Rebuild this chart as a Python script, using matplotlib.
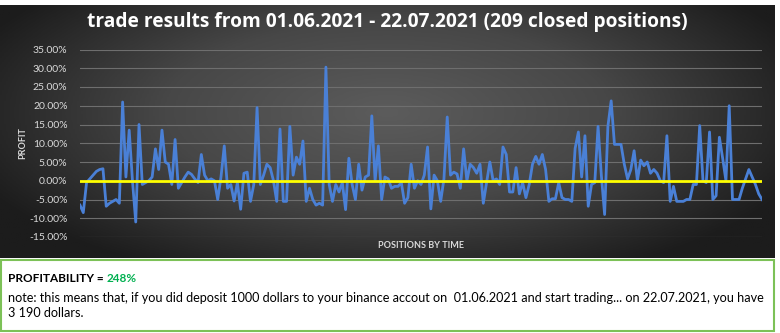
import numpy as np
import matplotlib
matplotlib.use("Agg")
import matplotlib.pyplot as plt
from matplotlib.colors import LinearSegmentedColormap
from matplotlib.patches import Rectangle

# Data (profit per closed position, in %) left to right
seg_a = [-6.5, -8.5, -0.5, 0.5, 1.5, 2.5, 3.0, 3.2, -6.8, -6.0, -5.5, -5.0, -6.0,
         21.0, 1.0, 13.5, 0.0, -11.0, 15.0, -1.0, -0.5, 0.0, 1.0, 8.5, 3.0, 13.5, 5.0]
seg_b = [4.4, -1.0, 11.0, -2.0, -0.5, 1.0, 2.3, 1.7, 0.5, -0.5, 7.0, 1.5, 0.0, 0.5,
         0.0, -5.0, 1.0, 9.3, -2.0, -1.0, -5.4, -0.5, -7.6, 2.0, 2.3, -5.5, -1.0, 19.5]
seg_c = [-1.0, 1.5, 4.4, 3.5, 0.0, -5.5, 13.8, -5.5, -5.5, 14.5, 1.5, 6.3, 4.4, 10.6,
         -5.5, -2.0, -5.0, -6.5, -6.0, -6.5, 30.3, -1.0, -5.5, -1.0, -3.0, -0.5, -7.7, 6.0]
seg_d = [-1.0, -5.0, 4.4, -2.5, 1.0, 1.5, 17.3, 0.0, 9.3, -5.0, 1.0, 0.5, -2.0, -1.5,
         -1.5, -0.5, -6.0, -4.5, 4.4, -2.0, 0.0, -1.0, 1.5, 9.0, -7.5, 1.5]
seg_e = [0.0, -5.5, 0.5, 17.0, 1.5, 2.3, 1.8, -2.0, 8.5, 0.0, 4.4, 3.5, 2.0, 4.4,
         -6.0, -0.5, 5.0, 0.0, 0.5, -1.0, 9.0, 7.0, -3.0, -3.0, 3.5, -3.5, -0.5, -4.5]
seg_f = [-1.0, 4.4, 6.5, 4.4, 7.0, 3.0, -5.5, -4.8, -4.8, -0.5, -4.5, -5.0, -5.0, -5.5,
         8.6, 13.0, 1.0, 12.0, -6.8, -1.0, -0.5, 14.5, 1.5, -9.0, 14.5, 21.3, 9.7, 9.7]
seg_g = [9.7, 4.4, 0.5, 3.0, 8.0, 0.0, 5.5, 4.0, 5.0, 2.0, 3.0, 2.0, 0.0, -0.5,
         12.0, -5.5, -1.5, -5.5, -5.5, -5.5, -5.0, -5.0, -1.0, -1.0, 14.7, 0.0, -0.5, 13.0]
seg_h = [-5.0, -4.0, 11.6, 6.0, 0.0, 20.0, -5.0, -5.0, -5.0, -2.0, 0.5, 3.0, 1.0,
         -1.0, -3.5, -5.0]
profit = seg_a + seg_b + seg_c + seg_d + seg_e + seg_f + seg_g + seg_h

y_ticks = [-15, -10, -5, 0, 5, 10, 15, 20, 25, 30, 35]

title = "trade results from 01.06.2021 - 22.07.2021 (209 closed positions)"
profitability = "248%"
note = ("note: this means that, if you did deposit 1000 dollars to your binance accout on  "
        "01.06.2021 and start trading... on 22.07.2021, you have\n3 190 dollars.")

W, H = 780, 333
fig = plt.figure(figsize=(W / 100, H / 100), dpi=100)
fig.patch.set_facecolor("white")
plt.rcParams['font.family'] = ['Lato', 'DejaVu Sans']

def fx(px):
    return px / W

def fy(py):
    return 1 - py / H

# dark chart background with a soft radial gradient
bg = fig.add_axes([0, fy(258), fx(775), fy(5) - fy(258)])
gx, gy = np.meshgrid(np.linspace(-1, 1, 400), np.linspace(-1, 1, 200))
r = np.sqrt((gx / 1.05) ** 2 + ((gy + 0.15) / 1.3) ** 2)
cmap = LinearSegmentedColormap.from_list("bg", ["#5c5c5c", "#474747", "#1c1c1c"])
bg.imshow(r, cmap=cmap, aspect="auto", extent=[0, 1, 0, 1], vmin=0, vmax=1.1)
bg.set_axis_off()

# plot area
ax = fig.add_axes([fx(80), fy(237), fx(762) - fx(80), fy(49.5) - fy(237)])
ax.patch.set_alpha(0)
x = np.arange(len(profit))
ax.set_ylim(-15, 35)
ax.set_xlim(0, len(profit) - 1)
ax.set_yticks(y_ticks)
ax.set_yticklabels([f"{t:.2f}%" for t in y_ticks])
ax.grid(axis="y", color="#6e6e6e", linewidth=0.8)
ax.set_axisbelow(True)
ax.set_xticks([])
for s in ax.spines.values():
    s.set_visible(False)
ax.tick_params(axis="y", length=0, pad=9, labelsize=7.5, labelcolor="#d9d9d9")

ax.plot(x, profit, color="#4a80d6", linewidth=2, zorder=3)
ax.axhline(0, color="#ffff00", linewidth=2, zorder=4)

ax.set_ylabel("PROFIT", fontsize=6.5, fontweight="bold", color="#d9d9d9", labelpad=1)
ax.set_xlabel("POSITIONS BY TIME", fontsize=6.5, fontweight="bold", color="#d9d9d9", labelpad=3)

fig.text(fx(387), fy(22), title, ha="center", va="center", fontsize=13.8,
         fontweight="bold", color="white", family=["Open Sans", "DejaVu Sans"])

# summary box
fig.patches.append(Rectangle((fx(1), fy(331)), fx(774) - fx(1), fy(260) - fy(331),
                             transform=fig.transFigure, facecolor="white",
                             edgecolor="#7cc157", linewidth=1.5))
t1 = fig.text(fx(8), fy(279), "PROFITABILITY = ", ha="left", va="center",
              fontsize=8.5, fontweight="bold", color="black")
fig.canvas.draw()
bb = t1.get_window_extent()
fig.text(bb.x1 / W, fy(279), profitability, ha="left", va="center",
         fontsize=8.5, fontweight="bold", color="#00b050")
fig.text(fx(8), fy(305.5), note, ha="left", va="center", fontsize=9.1,
         color="black", linespacing=1.35)

fig.savefig("out.png", dpi=100)
